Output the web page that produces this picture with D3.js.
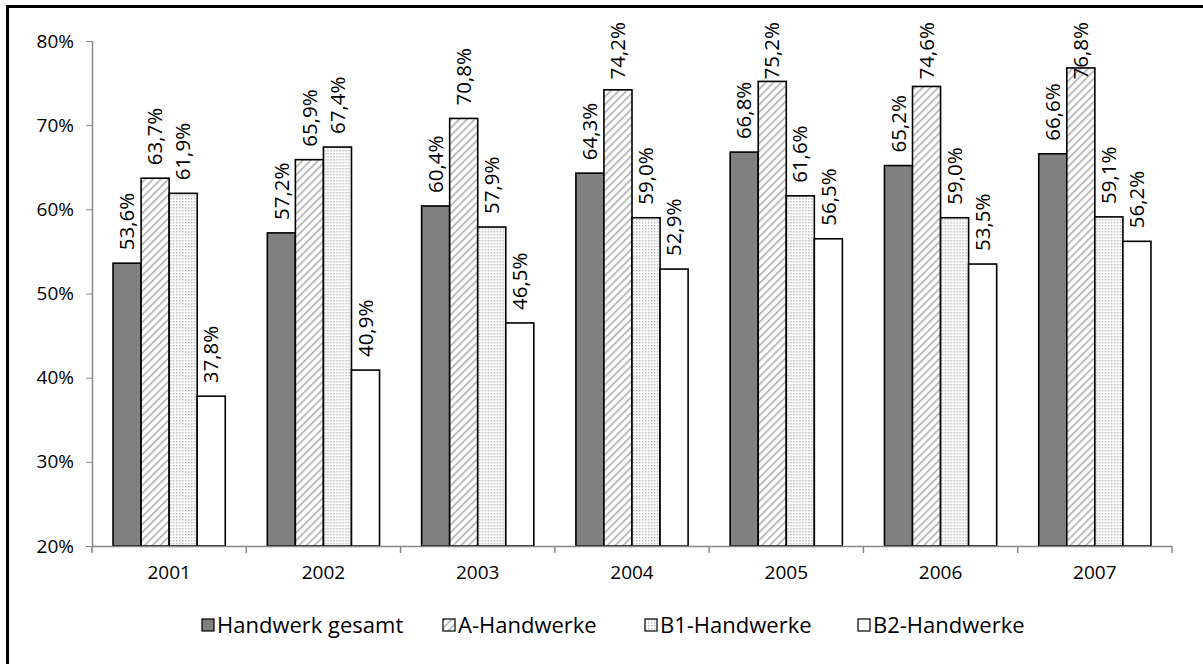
<!DOCTYPE html>
<meta charset="utf-8">
<style>
body { margin: 0; background: #fff; }
svg text { font-family: "Open Sans", Arial, sans-serif; }
.axis path, .axis line { stroke: #868686; }
.axis text { fill: #000; }
</style>
<svg width="1203" height="664"></svg>
<script src="https://d3js.org/d3.v7.min.js"></script>
<script>

var years = ["2001", "2002", "2003", "2004", "2005", "2006", "2007"];
var seriesNames = ["Handwerk gesamt", "A-Handwerke", "B1-Handwerke", "B2-Handwerke"];
var gesamt = [53.6, 57.2, 60.4, 64.3, 66.8, 65.2, 66.6];
var aHandwerke = [63.7, 65.9, 70.8, 74.2, 75.2, 74.6, 76.8];
var b1Handwerke = [61.9, 67.4, 57.9, 59.0, 61.6, 59.0, 59.1];
var b2Handwerke = [37.8, 40.9, 46.5, 52.9, 56.5, 53.5, 56.2];
var yTicks = [20, 30, 40, 50, 60, 70, 80];

var series = [gesamt, aHandwerke, b1Handwerke, b2Handwerke];

var svg = d3.select("svg");

// outer frame (only top and left edges are in the picture)
svg.append("path")
    .attr("d", "M7.5,1300 V6.5 H1300")
    .attr("fill", "none")
    .attr("stroke", "#000")
    .attr("stroke-width", 3);

// fill patterns
var defs = svg.append("defs");
var hatch = defs.append("pattern")
    .attr("id", "hatch")
    .attr("patternUnits", "userSpaceOnUse")
    .attr("width", 5.5).attr("height", 5.5)
    .attr("patternTransform", "rotate(45)");
hatch.append("rect").attr("width", 5.5).attr("height", 5.5).attr("fill", "#fff");
hatch.append("rect").attr("width", 2).attr("height", 5.5).attr("fill", "#bdbdbd");

var dots = defs.append("pattern")
    .attr("id", "dots")
    .attr("patternUnits", "userSpaceOnUse")
    .attr("width", 3).attr("height", 3);
dots.append("rect").attr("width", 3).attr("height", 3).attr("fill", "#fff");
dots.append("rect").attr("width", 1.5).attr("height", 1.5).attr("fill", "#bdbdbd");

var fills = ["#808080", "url(#hatch)", "url(#dots)", "#fff"];

var margin = {left: 92, right: 1172, top: 22, bottom: 546};

var y = d3.scaleLinear().domain([20, 80]).range([margin.bottom, 41]);

var x0 = d3.scaleBand()
    .domain(years)
    .range([margin.left, margin.right])
    .paddingInner(0.2727)
    .paddingOuter(0.1364);

var x1 = d3.scaleBand()
    .domain(d3.range(series.length))
    .range([0, x0.bandwidth()]);

// y axis
var yAxis = svg.append("g")
    .attr("class", "axis")
    .attr("transform", "translate(" + margin.left + ",0)")
    .call(d3.axisLeft(y).tickValues(yTicks).tickSize(6).tickPadding(12)
        .tickFormat(function(d) { return d + "%"; }));
yAxis.selectAll("text").attr("font-size", "19px");
yAxis.select(".domain").attr("d", "M0.5," + margin.bottom + "V" + y(80)).attr("stroke-width", 1.5);

// bars
var groups = svg.selectAll(".year")
    .data(years)
    .enter().append("g")
    .attr("transform", function(d) { return "translate(" + x0(d) + ",0)"; });

groups.selectAll("rect")
    .data(function(d, i) { return series.map(function(s, k) { return {k: k, v: s[i]}; }); })
    .enter().append("rect")
    .attr("x", function(d) { return x1(d.k); })
    .attr("y", function(d) { return y(d.v); })
    .attr("width", x1.bandwidth())
    .attr("height", function(d) { return y(20) - y(d.v); })
    .attr("fill", function(d) { return fills[d.k]; })
    .attr("stroke", "#000")
    .attr("stroke-width", 1.6);

// value labels, rotated
groups.selectAll("text.val")
    .data(function(d, i) { return series.map(function(s, k) { return {k: k, v: s[i]}; }); })
    .enter().append("text")
    .attr("class", "val")
    .attr("font-size", "20.5px")
    .attr("dy", "0.35em")
    .text(function(d) { return d3.format(".1f")(d.v).replace(".", ",") + "%"; })
    .each(function(d) {
        var len = this.getComputedTextLength();
        var ty = Math.max(y(d.v) - 13, margin.top + len);
        var tx = x1(d.k) + x1.bandwidth() / 2;
        d3.select(this).attr("transform", "translate(" + tx + "," + ty + ") rotate(-90)");
    });

// x axis
var xAxis = svg.append("g")
    .attr("class", "axis")
    .attr("transform", "translate(0," + margin.bottom + ")")
    .call(d3.axisBottom(x0).tickSize(0).tickPadding(20));
xAxis.selectAll("text").attr("font-size", "19px");
xAxis.select(".domain").attr("d", "M" + margin.left + ",0.5H" + margin.right).attr("stroke-width", 1.5);
xAxis.selectAll("line.sep")
    .data(d3.range(years.length + 1))
    .enter().append("line")
    .attr("class", "sep")
    .attr("x1", function(i) { return margin.left + i * x0.step(); })
    .attr("x2", function(i) { return margin.left + i * x0.step(); })
    .attr("y1", 0).attr("y2", 7)
    .attr("stroke", "#868686")
    .attr("stroke-width", 1.5);

// legend
var legendX = [202, 443, 645, 858];
var legend = svg.selectAll(".legend")
    .data(seriesNames)
    .enter().append("g")
    .attr("transform", function(d, i) { return "translate(" + legendX[i] + ",619)"; });
legend.append("rect")
    .attr("width", 12).attr("height", 12)
    .attr("fill", function(d, i) { return fills[i]; })
    .attr("stroke", "#000")
    .attr("stroke-width", 1.2);
legend.append("text")
    .attr("x", 15)
    .attr("y", 6)
    .attr("dy", "0.36em")
    .attr("font-size", "22px")
    .text(function(d) { return d; });

</script>
